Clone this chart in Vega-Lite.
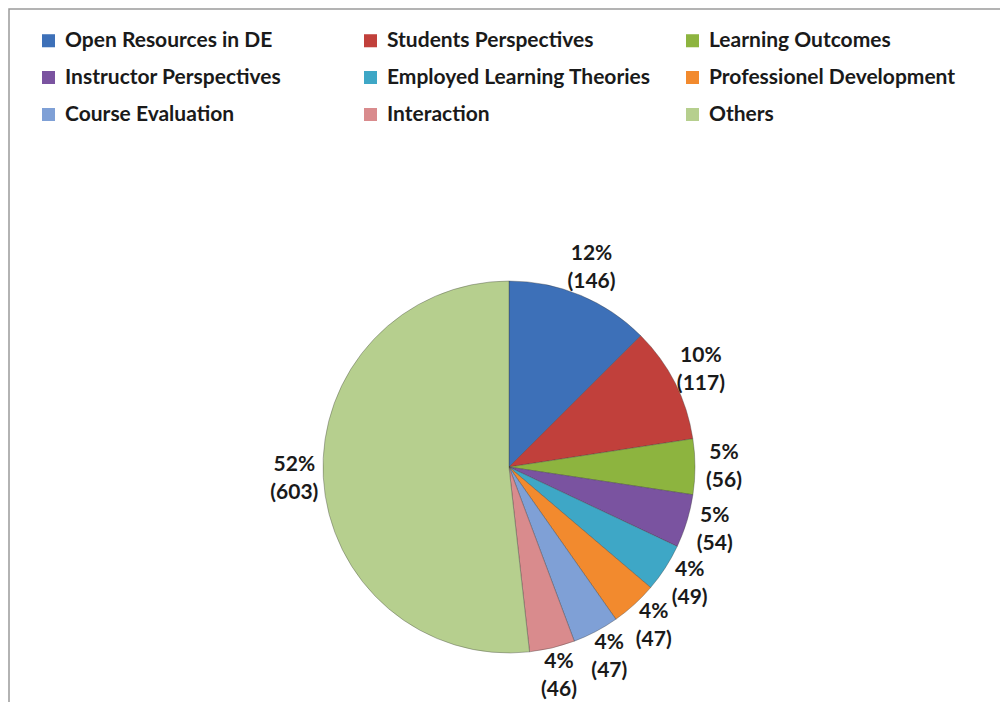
{
  "$schema": "https://vega.github.io/schema/vega-lite/v6.json",
  "autosize": {"type": "none"},
  "padding": {"left": 9, "top": 9, "right": 0, "bottom": 0},
  "width": 1000,
  "height": 916,
  "background": "#ffffff",
  "view": {"stroke": "#9a9a9a", "strokeWidth": 1.5},
  "config": {"font": "Lato"},
  "data": {
    "values": [
      {"category": "Open Resources in DE", "count": 146, "rank": 1, "label": "12%\n(146)"},
      {"category": "Students Perspectives", "count": 117, "rank": 2, "label": "10%\n(117)"},
      {"category": "Learning Outcomes", "count": 56, "rank": 3, "label": "5%\n(56)"},
      {"category": "Instructor Perspectives", "count": 54, "rank": 4, "label": "5%\n(54)"},
      {"category": "Employed Learning Theories", "count": 49, "rank": 5, "label": "4%\n(49)"},
      {"category": "Professionel Development", "count": 47, "rank": 6, "label": "4%\n(47)"},
      {"category": "Course Evaluation", "count": 47, "rank": 7, "label": "4%\n(47)"},
      {"category": "Interaction", "count": 46, "rank": 8, "label": "4%\n(46)"},
      {"category": "Others", "count": 603, "rank": 9, "label": "52%\n(603)"}
    ]
  },
  "encoding": {
    "theta": {"field": "count", "type": "quantitative", "stack": true},
    "order": {"field": "rank", "type": "quantitative"}
  },
  "layer": [
    {
      "mark": {"type": "arc", "outerRadius": 186, "stroke": "#3a3a3a", "strokeWidth": 0.6, "strokeOpacity": 0.6},
      "encoding": {
        "color": {
          "field": "category",
          "type": "nominal",
          "sort": ["Open Resources in DE", "Students Perspectives", "Learning Outcomes", "Instructor Perspectives", "Employed Learning Theories", "Professionel Development", "Course Evaluation", "Interaction", "Others"],
          "scale": {
            "domain": ["Open Resources in DE", "Students Perspectives", "Learning Outcomes", "Instructor Perspectives", "Employed Learning Theories", "Professionel Development", "Course Evaluation", "Interaction", "Others"],
            "range": ["#3d70b8", "#c1403b", "#8db43f", "#7a53a0", "#3ea7c6", "#f28a2e", "#7fa0d6", "#d98b8d", "#b6cf8e"]
          },
          "legend": {
            "title": null,
            "orient": "none",
            "direction": "horizontal",
            "legendX": 29,
            "legendY": 21,
            "columns": 3,
            "gridAlign": "all",
            "columnPadding": 31,
            "rowPadding": 15,
            "symbolType": "square",
            "symbolSize": 170,
            "symbolStrokeWidth": 0,
            "labelFont": "Lato",
            "labelFontSize": 21,
            "labelFontWeight": "bold",
            "labelColor": "#1a1a1a",
            "labelOffset": 6,
            "labelLimit": 400
          }
        }
      }
    },
    {
      "mark": {"type": "text", "radius": 215, "fontSize": 21, "fontWeight": "bold", "font": "Lato", "color": "#1a1a1a", "lineBreak": "\n", "lineHeight": 28, "dy": -14, "align": "center", "baseline": "middle"},
      "encoding": {
        "text": {"field": "label", "type": "nominal"}
      }
    }
  ]
}
